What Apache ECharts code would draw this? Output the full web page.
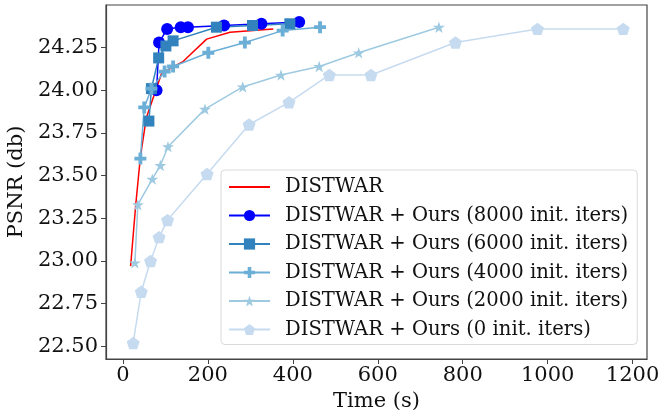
<!DOCTYPE html>
<html lang="en">
<head>
<meta charset="UTF-8">
<title>PSNR vs Time</title>
<script src="https://cdn.jsdelivr.net/npm/echarts@6/dist/echarts.min.js"></script>
<style>
  html, body { margin: 0; padding: 0; background: #fff; }
  #main { width: 662px; height: 410px; }
</style>
</head>
<body>
<div id="main"></div>
<script>
// data: time (s) and PSNR (db) per curve
var distwarT = [18, 30, 41, 55, 91, 142, 197, 252, 354];
var distwarP = [22.97, 23.33, 23.61, 23.84, 24.10, 24.17, 24.30, 24.34, 24.36];

var i8000T = [79, 85, 104, 136, 153, 238, 326, 415];
var i8000P = [24.00, 24.28, 24.36, 24.37, 24.37, 24.38, 24.39, 24.40];

var i6000T = [61, 67, 84, 101, 118, 220, 305, 393];
var i6000P = [23.82, 24.01, 24.19, 24.26, 24.29, 24.37, 24.38, 24.39];

var i4000T = [41, 50, 67, 98, 118, 201, 287, 376, 464];
var i4000P = [23.60, 23.90, 24.01, 24.11, 24.14, 24.22, 24.28, 24.35, 24.37];

var i2000T = [28, 35, 69, 88, 106, 193, 282, 372, 462, 555, 744];
var i2000P = [22.99, 23.33, 23.48, 23.56, 23.67, 23.89, 24.02, 24.09, 24.14, 24.22, 24.37];

var i0T = [24, 43, 65, 85, 105, 198, 297, 391, 486, 584, 783, 976, 1178];
var i0P = [22.52, 22.82, 23.00, 23.14, 23.24, 23.51, 23.80, 23.93, 24.09, 24.09, 24.28, 24.36, 24.36];

var xTicks = [0, 200, 400, 600, 800, 1000, 1200];
var yTicks = [22.5, 22.75, 23.0, 23.25, 23.5, 23.75, 24.0, 24.25];

var names = [
  'DISTWAR',
  'DISTWAR + Ours (8000 init. iters)',
  'DISTWAR + Ours (6000 init. iters)',
  'DISTWAR + Ours (4000 init. iters)',
  'DISTWAR + Ours (2000 init. iters)',
  'DISTWAR + Ours (0 init. iters)'
];

var FONT = 'DejaVu Serif';
var PLUS = 'path://M3.4,0H6.6V3.4H10V6.6H6.6V10H3.4V6.6H0V3.4H3.4Z';
var STAR = 'path://M50,0L61.23,34.55L97.55,34.55L68.17,55.9L79.39,90.45L50,69.1L20.61,90.45L31.83,55.9L2.45,34.55L38.77,34.55Z';
var PENT = 'path://M50,0L97.55,34.55L79.39,90.45L20.61,90.45L2.45,34.55Z';

function zip(t, p) {
  var out = [];
  for (var i = 0; i < t.length; i++) out.push([t[i], p[i]]);
  return out;
}

function mkSeries(name, t, p, color, symbol, size) {
  return {
    name: name,
    type: 'line',
    data: zip(t, p),
    symbol: symbol,
    symbolSize: size,
    symbolKeepAspect: true,
    lineStyle: { color: color, width: 1.5 },
    itemStyle: { color: color },
    emphasis: { disabled: true },
    animation: false
  };
}

// legend entries; red one is a plain line, no marker
var legendData = names.map(function (n, i) {
  return i === 0 ? { name: n, itemStyle: { opacity: 0 } } : { name: n };
});

var myChart = echarts.init(document.getElementById('main'));
var option = {
  backgroundColor: '#fff',
  animation: false,
  grid: {
    left: 106, right: 15, top: 5, bottom: 51,
    outerBoundsMode: 'none',
    containLabel: false,
    show: true, borderColor: '#444', borderWidth: 1.2
  },
  legend: {
    orient: 'vertical',
    left: 221, top: 170,
    data: legendData,
    itemWidth: 41, itemHeight: 14, itemGap: 8.5,
    padding: [7, 9, 5, 7],
    backgroundColor: '#fff',
    borderColor: '#d9d9d9', borderWidth: 1, borderRadius: 4,
    textStyle: { fontFamily: FONT, fontSize: 19.6, lineHeight: 20, color: '#111', padding: [0, 0, 0, 10] }
  },
  xAxis: {
    type: 'value',
    min: -40, max: 1234,
    name: 'Time (s)', nameLocation: 'middle', nameGap: 30,
    nameTextStyle: { fontFamily: FONT, fontSize: 21, color: '#111' },
    splitLine: { show: false },
    axisLine: { show: true, onZero: false, lineStyle: { color: '#444', width: 1.2 } },
    axisTick: { show: true, length: 5, lineStyle: { color: '#444' }, customValues: xTicks },
    axisLabel: {
      fontFamily: FONT, fontSize: 21, color: '#111', margin: 6, customValues: xTicks,
      formatter: function (v) { return String(v); }
    }
  },
  yAxis: {
    type: 'value',
    min: 22.426, max: 24.5,
    name: 'PSNR (db)', nameLocation: 'middle', nameGap: 76,
    nameTextStyle: { fontFamily: FONT, fontSize: 21, color: '#111' },
    splitLine: { show: false },
    axisLine: { show: true, onZero: false, lineStyle: { color: '#444', width: 1.2 } },
    axisTick: { show: true, length: 5, lineStyle: { color: '#444' }, customValues: yTicks },
    axisLabel: {
      fontFamily: FONT, fontSize: 21, color: '#111', margin: 8, customValues: yTicks,
      formatter: function (v) { return v.toFixed(2); }
    }
  },
  series: [
    mkSeries(names[0], distwarT, distwarP, '#ff0000', 'none', 0),
    mkSeries(names[1], i8000T, i8000P, '#0000ff', 'circle', 12),
    mkSeries(names[2], i6000T, i6000P, '#3182bd', 'rect', 11),
    mkSeries(names[3], i4000T, i4000P, '#6baed6', PLUS, 12),
    mkSeries(names[4], i2000T, i2000P, '#9ecae1', STAR, 12),
    mkSeries(names[5], i0T, i0P, '#c6dbef', PENT, 13)
  ]
};
myChart.setOption(option);
</script>
</body>
</html>
